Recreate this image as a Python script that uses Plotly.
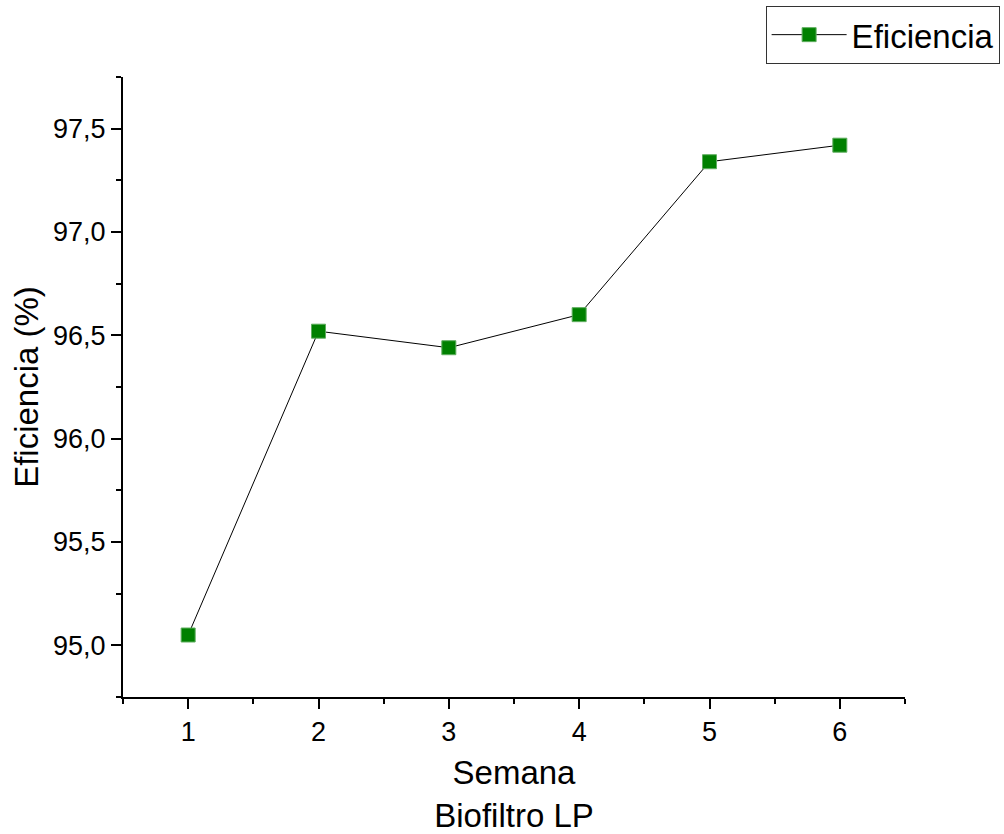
import plotly.graph_objects as go

semana = [1, 2, 3, 4, 5, 6]
eficiencia = [95.05, 96.52, 96.44, 96.60, 97.34, 97.42]

FONT = "Arial, Liberation Sans, sans-serif"

fig = go.Figure()
fig.add_trace(go.Scatter(
    x=semana, y=eficiencia, mode="lines+markers", name="Eficiencia",
    line=dict(color="black", width=1),
    marker=dict(symbol="square", size=14, color="#008000",
                line=dict(color="#5fae5f", width=1)),
))

axis_common = dict(
    showline=True, linecolor="black", linewidth=2,
    ticks="outside", ticklen=10, tickwidth=2, tickcolor="black",
    showgrid=False, zeroline=False, mirror=False, automargin=False,
    tickfont=dict(family=FONT, size=27, color="black"),
)

fig.update_layout(
    width=1004, height=834,
    margin=dict(l=123, r=99, t=77, b=137, autoexpand=False),
    paper_bgcolor="white", plot_bgcolor="white",
    separators=",.",
    font=dict(family=FONT, color="black"),
    showlegend=True,
    legend=dict(x=1.121, y=1.115, xanchor="right", yanchor="top",
                bordercolor="#333333", borderwidth=1,
                font=dict(family=FONT, size=33, color="black"),
                itemwidth=75, tracegroupgap=0),
    xaxis=dict(range=[0.5, 6.5], tick0=1, dtick=1,
               minor=dict(dtick=0.5, tick0=0.5, ticks="outside", ticklen=5,
                          tickwidth=2, tickcolor="black"),
               title=dict(text="Semana<br>Biofiltro LP",
                          font=dict(family=FONT, size=33, color="black"),
                          standoff=25),
               **axis_common),
    yaxis=dict(range=[94.75, 97.75], tick0=95, dtick=0.5, tickformat=".1f",
               minor=dict(dtick=0.25, tick0=94.75, ticks="outside", ticklen=5,
                          tickwidth=2, tickcolor="black"),
               title=dict(text="Eficiencia (%)",
                          font=dict(family=FONT, size=33, color="black"),
                          standoff=4),
               **axis_common),
)

fig.write_html("out.html")
